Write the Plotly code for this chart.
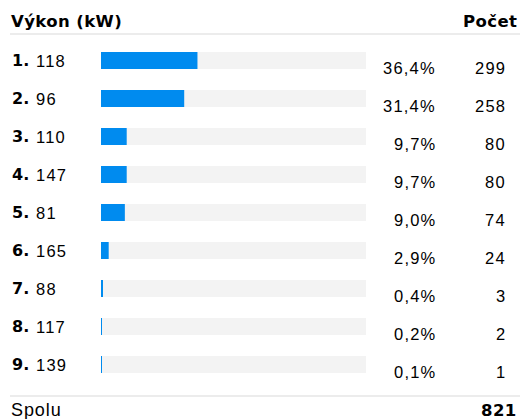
import plotly.graph_objects as go

# Engine power distribution
ranks = [1, 2, 3, 4, 5, 6, 7, 8, 9]
power_kw = ["118", "96", "110", "147", "81", "165", "88", "117", "139"]
share_pct = [36.4, 31.4, 9.7, 9.7, 9.0, 2.9, 0.4, 0.2, 0.1]
counts = [299, 258, 80, 80, 74, 24, 3, 2, 1]
total = 821

header_left = "Výkon (kW)"
header_right = "Počet"
footer_left = "Spolu"

W, H = 520, 419
BLUE = "#008bef"
TRACK = "#f3f3f3"
RULE = "#ececec"

bold_font = "DejaVu Sans"
reg_font = "Liberation Sans"
REG_SIZE = 16.5
SP = 1.2  # letter spacing of the regular text, px


def spaced(s, size=REG_SIZE, sp=SP, family=reg_font, bold=False):
    weight = "font-weight:bold;" if bold else ""
    return (f'<span style="font-family:\'{family}\';font-size:{size}px;{weight}'
            f'letter-spacing:{sp}px">{s}</span>')


idx = list(range(len(ranks)))

fig = go.Figure()
# background tracks (full scale 0-100 %)
fig.add_trace(go.Bar(
    x=[100] * len(idx), y=idx, orientation="h",
    marker=dict(color=TRACK, line=dict(width=0)),
    width=0.447, hoverinfo="skip", showlegend=False,
))
# share bars
fig.add_trace(go.Bar(
    x=share_pct, y=idx, orientation="h",
    marker=dict(color=BLUE, line=dict(width=0)),
    width=0.447, showlegend=False,
))

row_px = 38.0
first_px = 60.5
y_top = -first_px / row_px
y_bot = (H - first_px) / row_px
val_shift = 7.5 / row_px  # value columns sit a little below the bar centre

annotations = []
for i in idx:
    annotations.append(dict(
        x=10 / W, y=i, xref="paper", yref="y", xanchor="left", yanchor="middle",
        text=f"<b>{ranks[i]}.</b>", showarrow=False,
        font=dict(family=bold_font, size=16, color="#000"),
    ))
    annotations.append(dict(
        x=34 / W, y=i, xref="paper", yref="y", xanchor="left", yanchor="middle",
        text=spaced(power_kw[i]), showarrow=False,
        font=dict(family=reg_font, size=REG_SIZE, color="#000"),
    ))
    annotations.append(dict(
        x=(437 + SP) / W, y=i + val_shift, xref="paper", yref="y", xanchor="right", yanchor="middle",
        text=spaced(f"{share_pct[i]:.1f}%".replace(".", ",")), showarrow=False,
        font=dict(family=reg_font, size=REG_SIZE, color="#000"),
    ))
    annotations.append(dict(
        x=(507 + SP) / W, y=i + val_shift, xref="paper", yref="y", xanchor="right", yanchor="middle",
        text=spaced(str(counts[i])), showarrow=False,
        font=dict(family=reg_font, size=REG_SIZE, color="#000"),
    ))

# header and footer
HSP = 0.4
annotations += [
    dict(x=9 / W, y=1 - 21.5 / H, xref="paper", yref="paper", xanchor="left", yanchor="middle",
         text=spaced(header_left, 16.5, HSP, bold_font, True), showarrow=False,
         font=dict(family=bold_font, size=16.5, color="#000")),
    dict(x=(519 + HSP) / W, y=1 - 21.5 / H, xref="paper", yref="paper", xanchor="right", yanchor="middle",
         text=spaced(header_right, 16.5, HSP, bold_font, True), showarrow=False,
         font=dict(family=bold_font, size=16.5, color="#000")),
    dict(x=9 / W, y=1 - 410 / H, xref="paper", yref="paper", xanchor="left", yanchor="middle",
         text=spaced(footer_left, 18, 0.9), showarrow=False,
         font=dict(family=reg_font, size=18, color="#000")),
    dict(x=(519 + HSP) / W, y=1 - 410 / H, xref="paper", yref="paper", xanchor="right", yanchor="middle",
         text=spaced(str(total), 16.5, HSP, bold_font, True), showarrow=False,
         font=dict(family=bold_font, size=16.5, color="#000")),
]

shapes = [
    dict(type="line", xref="paper", yref="paper", x0=10 / W, x1=1, y0=1 - 34 / H, y1=1 - 34 / H,
         line=dict(color=RULE, width=2)),
    dict(type="line", xref="paper", yref="paper", x0=10 / W, x1=1, y0=1 - 396 / H, y1=1 - 396 / H,
         line=dict(color=RULE, width=2)),
]

fig.update_layout(
    width=W, height=H,
    margin=dict(l=0, r=0, t=0, b=0),
    paper_bgcolor="white", plot_bgcolor="white",
    barmode="overlay",
    xaxis=dict(domain=[101 / W, 366 / W], range=[0, 100], visible=False, fixedrange=True),
    yaxis=dict(range=[y_bot, y_top], visible=False, fixedrange=True),
    annotations=annotations, shapes=shapes,
)

fig.write_html("out.html")
